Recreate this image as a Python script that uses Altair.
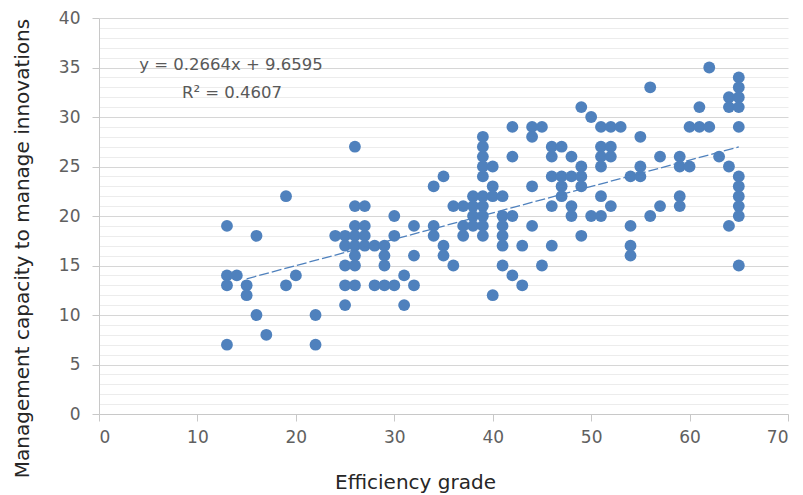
import altair as alt
import pandas as pd

# ---- data ----
EFFICIENCY = [
    13, 13, 13, 13,
    14,
    15, 15,
    16, 16,
    17,
    19, 19,
    20,
    22, 22,
    24,
    25, 25, 25, 25, 25,
    26, 26, 26, 26, 26, 26, 26, 26,
    27, 27, 27, 27,
    28, 28,
    29, 29, 29, 29,
    30, 30, 30,
    31, 31,
    32, 32, 32,
    34, 34, 34,
    35, 35, 35,
    36, 36,
    37, 37, 37,
    38, 38, 38, 38,
    39, 39, 39, 39, 39, 39, 39, 39, 39, 39,
    40, 40, 40, 40,
    41, 41, 41, 41, 41, 41,
    42, 42, 42, 42,
    43, 43,
    44, 44, 44, 44,
    45, 45,
    46, 46, 46, 46, 46,
    47, 47, 47, 47,
    48, 48, 48, 48,
    49, 49, 49, 49, 49,
    50, 50,
    51, 51, 51, 51, 51, 51,
    52, 52, 52, 52,
    53,
    54, 54, 54, 54,
    55, 55, 55,
    56, 56,
    57, 57,
    59, 59, 59, 59,
    60, 60,
    61, 61,
    62, 62,
    63,
    64, 64, 64, 64,
    65, 65, 65, 65, 65, 65, 65, 65, 65, 65, 65,
]
CAPACITY = [
    19, 14, 13, 7,
    14,
    13, 12,
    18, 10,
    8,
    22, 13,
    14,
    10, 7,
    18,
    18, 17, 15, 13, 11,
    27, 21, 19, 18, 17, 16, 15, 13,
    21, 19, 18, 17,
    17, 13,
    17, 16, 15, 13,
    20, 18, 13,
    14, 11,
    19, 16, 13,
    23, 19, 18,
    24, 17, 16,
    21, 15,
    21, 19, 18,
    22, 21, 20, 19,
    28, 27, 26, 25, 24, 22, 21, 20, 19, 18,
    25, 23, 22, 12,
    22, 20, 19, 18, 17, 15,
    29, 26, 20, 14,
    17, 13,
    29, 28, 23, 19,
    29, 15,
    27, 26, 24, 21, 17,
    27, 24, 23, 22,
    26, 24, 21, 20,
    31, 25, 24, 23, 18,
    30, 20,
    29, 27, 26, 25, 22, 20,
    29, 27, 26, 21,
    29,
    24, 19, 17, 16,
    28, 25, 24,
    33, 20,
    26, 21,
    26, 25, 22, 21,
    29, 25,
    31, 29,
    35, 29,
    26,
    32, 31, 25, 19,
    34, 33, 32, 31, 29, 24, 23, 22, 21, 20, 15,
]

TREND_X = [15, 65]
TREND_SLOPE = 0.2664
TREND_INTERCEPT = 9.6595
EQUATION = "y = 0.2664x + 9.6595"
R_SQUARED = "R² = 0.4607"

X_TICKS = [0, 10, 20, 30, 40, 50, 60, 70]
Y_TICKS = list(range(0, 41))

X_TITLE = "Efficiency grade"
Y_TITLE = "Management capacity to manage innovations"

BLUE = "#4f81bd"
FONT = "DejaVu Sans"

points_df = pd.DataFrame({"x": EFFICIENCY, "y": CAPACITY})
trend_df = pd.DataFrame({"x": TREND_X})

major = "datum.value % 5 === 0"

x_enc = alt.X(
    "x:Q",
    scale=alt.Scale(domain=[0, 70], nice=False, zero=True),
    axis=alt.Axis(
        values=X_TICKS,
        tickCount=len(X_TICKS),
        title=X_TITLE,
        grid=False,
        domainColor="#c8c8c8",
        tickColor="#c8c8c8",
        tickSize=7,
        labelPadding=8,
        labelFont=FONT,
        labelFontSize=17,
        labelColor="#606060",
        titleFont=FONT,
        titleFontSize=20,
        titleFontWeight="normal",
        titleColor="#262626",
        titleX=316,
        titleY=68,
        titleAlign="center",
        titleBaseline="middle",
    ),
)

y_enc = alt.Y(
    "y:Q",
    scale=alt.Scale(domain=[0, 40], nice=False),
    axis=alt.Axis(
        values=Y_TICKS,
        tickCount=len(Y_TICKS),
        title=Y_TITLE,
        grid=True,
        gridColor={"condition": {"test": major, "value": "#d6d6d6"}, "value": "#ececec"},
        gridWidth=1,
        tickOpacity={"condition": {"test": major, "value": 1}, "value": 0},
        labelExpr="datum.value % 5 === 0 ? datum.label : ''",
        labelOverlap=False,
        domainColor="#c8c8c8",
        tickColor="#c8c8c8",
        tickSize=7,
        labelPadding=12,
        labelFont=FONT,
        labelFontSize=17,
        labelColor="#606060",
        titleFont=FONT,
        titleFontSize=20,
        titleFontWeight="normal",
        titleColor="#262626",
        titleAngle=270,
        titleX=-77,
        titleY=230,
        titleAlign="center",
        titleBaseline="middle",
    ),
)

points = alt.Chart(points_df).mark_circle(size=140, opacity=1, color=BLUE).encode(
    x=x_enc, y=y_enc
)

trend = (
    alt.Chart(trend_df)
    .transform_calculate(y=f"{TREND_SLOPE} * datum.x + {TREND_INTERCEPT}")
    .mark_line(color=BLUE, strokeWidth=1.3, strokeDash=[10, 3])
    .encode(x="x:Q", y="y:Q")
)

one = pd.DataFrame({"k": [0]})
eq_text = alt.Chart(one).mark_text(
    text=EQUATION, font=FONT, fontSize=16.5, color="#595959", align="center", baseline="middle"
).encode(x=alt.value(132), y=alt.value(47))
r2_text = alt.Chart(one).mark_text(
    text=R_SQUARED, font=FONT, fontSize=16.5, color="#595959", align="center", baseline="middle"
).encode(x=alt.value(133), y=alt.value(75))

chart = (
    alt.layer(points, trend, eq_text, r2_text)
    .properties(
        width=689,
        height=396,
        autosize=alt.AutoSizeParams(type="none"),
        padding={"left": 91, "top": 10, "right": 6, "bottom": 80},
        background="white",
    )
    .configure_view(stroke=None)
)

chart.save("out.html", embed_options={"renderer": "svg", "actions": False})
